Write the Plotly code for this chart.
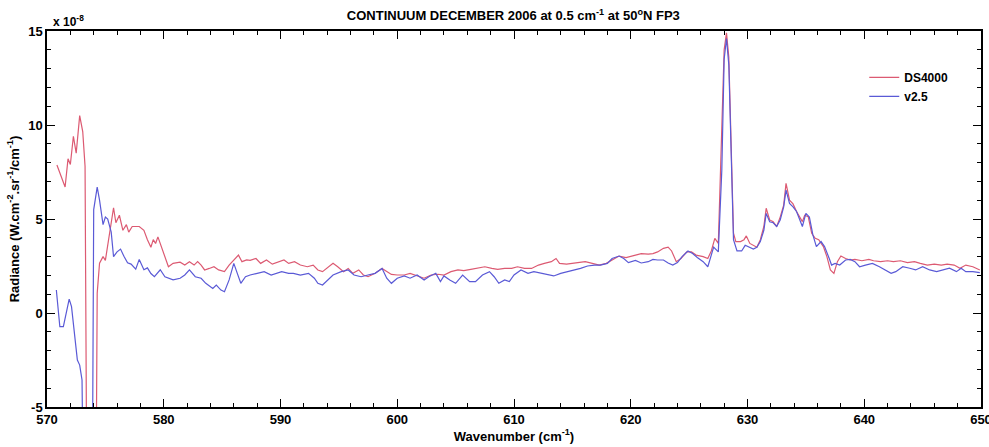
import plotly.graph_objects as go

SCALE_LABEL = "x 10<sup>-8</sup>"

# DS4000 (radiance in units of 1e-8 W.cm-2.sr-1/cm-1)
ds_x = [570.85, 571.55, 571.8, 572.0, 572.26, 572.5, 572.8, 573.06, 573.26, 573.5, 574.1,
        574.3, 574.5, 574.8, 575.0, 575.35, 575.7, 575.9, 576.2, 576.5, 576.8, 577.0, 577.3,
        577.9, 578.3, 578.6, 578.9, 579.1, 579.3, 579.5, 579.7, 580.0, 580.4, 580.8, 581.4,
        581.8, 582.2, 582.6, 582.9, 583.2, 583.5, 583.9, 584.3, 584.7, 585.2, 585.6, 586.0,
        586.4, 586.7, 587.1, 587.4, 587.9, 588.3, 588.8, 589.3, 589.8, 590.3, 590.7, 591.2,
        591.7, 592.3, 592.8, 593.2, 593.6, 594.1, 594.5, 594.9, 595.4, 595.8, 596.2, 596.7,
        597.1, 597.5, 598.1, 598.7, 599.1, 599.5, 600.0, 600.6, 601.1, 601.7, 602.3, 602.9,
        603.5, 604.0, 604.6, 605.2, 605.7, 606.3, 606.9, 607.5, 608.1, 608.6, 609.2, 609.8,
        610.3, 610.9, 611.5, 612.1, 612.6, 613.2, 613.6, 613.9, 614.5, 615.1, 615.7, 616.1,
        616.7, 617.3, 617.9, 618.4, 619.0, 619.6, 620.4, 620.9, 621.5, 621.9, 622.3, 622.8,
        623.2, 623.5, 623.9, 624.3, 624.8, 625.2, 625.6, 626.2, 626.6, 626.9, 627.2, 627.5,
        628.0, 628.2, 628.4, 628.6, 628.8, 629.0, 629.4, 629.7, 629.9, 630.2, 630.5, 630.8,
        631.1, 631.4, 631.6, 631.9, 632.2, 632.5, 632.8, 633.1, 633.3, 633.6, 633.9, 634.2,
        634.7, 634.9, 635.2, 635.5, 635.8, 636.1, 636.5, 636.8, 637.1, 637.4, 637.7, 638.0,
        638.4, 638.8, 639.2, 639.8, 640.4, 640.8, 641.4, 642.0, 642.5, 643.1, 643.7, 644.3,
        644.8, 645.4, 646.0, 646.6, 647.1, 647.7, 648.2, 648.7, 649.3, 649.9]
ds_y = [7.87, 6.7, 8.2, 7.9, 9.4, 8.5, 10.5, 9.65, 7.8, -20, -20,
        1.05, 2.65, 3.0, 2.8, 4.25, 5.6, 4.8, 5.2, 4.4, 4.7, 4.3, 4.6,
        4.6, 4.4, 3.9, 3.5, 3.9, 3.7, 4.05, 3.7, 3.2, 2.46, 2.64, 2.7,
        2.55, 2.73, 2.55, 2.73, 2.55, 2.29, 2.37, 2.46, 2.29, 2.2, 2.55, 2.82,
        3.08, 2.73, 2.82, 2.8, 2.9, 2.64, 2.82, 2.6, 2.73, 2.82, 2.64, 2.73,
        2.55, 2.46, 2.55, 2.29, 2.2, 2.46, 2.64, 2.46, 2.2, 2.37, 2.11, 2.29,
        2.02, 1.93, 2.11, 2.37, 2.2, 2.05, 2.02, 2.02, 2.11, 1.97, 1.85, 2.02,
        2.06, 2.02, 2.2, 2.29, 2.25, 2.32, 2.37, 2.46, 2.37, 2.32, 2.37, 2.37,
        2.46, 2.37, 2.37, 2.55, 2.64, 2.73, 2.9, 2.64, 2.6, 2.64, 2.67, 2.73,
        2.64, 2.55, 2.64, 2.82, 3.03, 2.95, 3.08, 3.16, 3.13, 3.16, 3.25, 3.44,
        3.5, 3.3, 2.73, 2.9, 3.25, 3.25, 3.08, 3.0, 2.9, 3.3, 3.97, 3.7,
        14.0, 14.9, 13.6, 8.5, 4.25, 3.8, 3.8, 3.9, 4.1, 3.7, 3.6, 3.5,
        3.9, 4.6, 5.57, 4.95, 4.85, 4.6, 5.1, 5.74, 6.9, 6.0, 5.8, 5.4,
        4.86, 5.2, 5.12, 4.24, 3.97, 3.9, 3.53, 3.0, 2.29, 2.11, 2.73, 3.03,
        2.9, 2.82, 2.85, 2.78, 2.85, 2.78, 2.73, 2.78, 2.73, 2.78, 2.68, 2.73,
        2.64, 2.55, 2.6, 2.55, 2.6, 2.55, 2.38, 2.55, 2.46, 2.29]

# v2.5
v25_x = [570.8, 571.1, 571.4, 571.9, 572.1, 572.4, 572.6, 572.8, 573.0, 573.3, 573.8,
         574.0, 574.3, 574.5, 574.8, 575.0, 575.2, 575.5, 575.7, 576.0, 576.3, 576.6, 576.9,
         577.2, 577.6, 577.9, 578.3, 578.6, 578.9, 579.2, 579.7, 580.1, 580.8, 581.4, 581.8,
         582.2, 582.7, 583.2, 583.6, 584.2, 584.5, 584.9, 585.2, 585.6, 586.0, 586.3, 586.6,
         587.0, 587.4, 588.0, 588.6, 589.2, 589.6, 590.1, 590.7, 591.1, 591.7, 592.4, 592.9,
         593.2, 593.6, 594.1, 594.5, 595.2, 595.8, 596.3, 596.9, 597.5, 598.1, 598.7, 599.1,
         599.5, 600.0, 600.6, 601.1, 601.7, 602.3, 602.7, 603.3, 603.7, 604.0, 604.5, 605.0,
         605.6, 606.2, 606.7, 607.3, 607.9, 608.3, 608.7, 609.2, 609.6, 610.0, 610.6, 611.2,
         611.7, 612.3, 612.9, 613.4, 614.0, 614.6, 615.2, 615.7, 616.3, 616.9, 617.4, 618.0,
         618.4, 619.0, 619.4, 619.8, 620.4, 620.9, 621.5, 621.9, 622.3, 622.8, 623.2, 623.6,
         624.0, 624.4, 624.9, 625.3, 625.7, 626.2, 626.6, 626.9, 627.1, 627.5, 627.8, 628.0,
         628.2, 628.4, 628.6, 628.8, 629.1, 629.5, 629.8, 630.1, 630.5, 630.8, 631.1, 631.4,
         631.6, 631.9, 632.2, 632.5, 632.8, 633.1, 633.3, 633.6, 633.9, 634.2, 634.7, 635.0,
         635.3, 635.6, 635.9, 636.3, 636.6, 637.0, 637.2, 637.5, 637.9, 638.4, 638.8, 639.2,
         639.6, 640.1, 640.7, 641.3, 641.8, 642.3, 642.7, 643.3, 643.9, 644.4, 645.0, 645.6,
         646.2, 646.7, 647.3, 647.9, 648.3, 648.7, 649.3, 649.9]
v25_y = [1.22, -0.73, -0.73, 0.74, 0.34, -1.44, -2.5, -2.77, -3.56, -20, -20,
         5.5, 6.7, 6.0, 4.7, 5.1, 5.0, 4.3, 3.0, 3.25, 3.4, 3.0, 2.67,
         2.6, 2.33, 2.85, 2.3, 2.4, 2.1, 1.93, 2.3, 1.93, 1.76, 1.85, 2.02,
         2.29, 1.93, 1.85, 1.58, 1.31, 1.49, 1.22, 1.13, 1.76, 2.64, 2.11, 1.58,
         1.93, 2.02, 2.11, 2.2, 2.02, 2.11, 2.2, 2.11, 2.11, 2.02, 2.11, 1.85,
         1.58, 1.49, 1.76, 2.02, 2.2, 2.29, 2.02, 1.93, 2.02, 2.11, 2.37, 1.85,
         1.58, 1.85, 1.97, 1.85, 2.02, 1.76, 1.93, 2.11, 1.67, 1.97, 1.76, 1.58,
         2.02, 1.67, 1.67, 2.02, 2.2, 1.93, 1.58, 1.76, 1.67, 2.02, 2.29, 2.11,
         2.2, 2.11, 2.02, 1.97, 2.11, 2.2, 2.29, 2.37, 2.5, 2.55, 2.55, 2.64,
         2.9, 3.03, 2.9, 2.68, 2.8, 2.66, 2.73, 2.85, 2.82, 2.82, 2.66, 2.55,
         2.68, 3.0, 3.3, 3.16, 2.95, 2.73, 2.46, 3.08, 3.5, 3.25, 7.6, 13.5,
         14.6, 13.2, 8.1, 3.9, 3.3, 3.3, 3.6, 3.5, 3.4, 3.5, 3.8, 4.4,
         5.3, 4.85, 4.8, 4.6, 4.95, 5.65, 6.54, 5.83, 5.65, 5.4, 4.6, 5.3,
         5.1, 4.15, 3.53, 3.8, 3.53, 2.9, 2.55, 2.64, 2.55, 2.82, 2.85, 2.73,
         2.46, 2.55, 2.64, 2.46, 2.29, 2.11, 2.2, 2.46, 2.38, 2.29, 2.46, 2.29,
         2.2, 2.29, 2.38, 2.2, 2.38, 2.2, 2.2, 2.15]

x_ticks = [570, 580, 590, 600, 610, 620, 630, 640, 650]
y_ticks = [-5, 0, 5, 10, 15]

FONT = "Liberation Sans Narrow, Liberation Sans, Arial, sans-serif"
RED = "#dc5a72"
BLUE = "#5a5ad6"

fig = go.Figure()
fig.add_trace(go.Scatter(x=ds_x, y=ds_y, mode="lines", name="<b>DS4000</b>",
                         line=dict(color=RED, width=1.2)))
fig.add_trace(go.Scatter(x=v25_x, y=v25_y, mode="lines", name="<b>v2.5</b>",
                         line=dict(color=BLUE, width=1.2)))

axis_common = dict(
    showgrid=False, zeroline=False, showline=True, linecolor="black", linewidth=1.5,
    mirror="allticks", ticks="inside", ticklen=8, tickwidth=1.2, tickcolor="black",
    tickfont=dict(family=FONT, size=13, color="black"), automargin=False,
    ticklabeloverflow="allow",
)

fig.update_xaxes(range=[570, 650], tickvals=x_ticks,
                 ticktext=[f"<b>{v}</b>" for v in x_ticks],
                 minor=dict(dtick=2, ticks="inside", ticklen=4, tickwidth=1, tickcolor="black"),
                 title=dict(text="<b>Wavenumber (cm<sup>-1</sup>)</b>",
                            font=dict(family=FONT, size=13, color="black"), standoff=4),
                 **axis_common)
fig.update_yaxes(range=[-5, 15], tickvals=y_ticks,
                 ticktext=[f"<b>{v}</b>" for v in y_ticks],
                 minor=dict(dtick=1, ticks="inside", ticklen=4, tickwidth=1, tickcolor="black"),
                 title=dict(text="<b>Radiance (W.cm<sup>-2</sup>.sr<sup>-1</sup>/cm<sup>-1</sup>)</b>",
                            font=dict(family=FONT, size=13, color="black"), standoff=6),
                 **axis_common)

fig.update_layout(
    width=989, height=447,
    margin=dict(l=47, r=8, t=31, b=40),
    paper_bgcolor="white", plot_bgcolor="white",
    title=dict(text="<b>CONTINUUM DECEMBER 2006 at 0.5 cm<sup>-1</sup> at 50<sup>o</sup>N FP3</b>",
               x=0.519, xanchor="center", y=0.975, yanchor="top",
               font=dict(family=FONT, size=13, color="black")),
    legend=dict(x=0.875, y=0.915, xanchor="left", yanchor="top",
                bgcolor="rgba(0,0,0,0)", font=dict(family=FONT, size=12, color="black"),
                tracegroupgap=0),
    showlegend=True,
    annotations=[dict(text="<b>" + SCALE_LABEL + "</b>", xref="paper", yref="paper",
                      x=0.004, y=1.0, xanchor="left", yanchor="bottom", showarrow=False,
                      font=dict(family=FONT, size=12, color="black"))],
)

fig.write_html("out.html")
